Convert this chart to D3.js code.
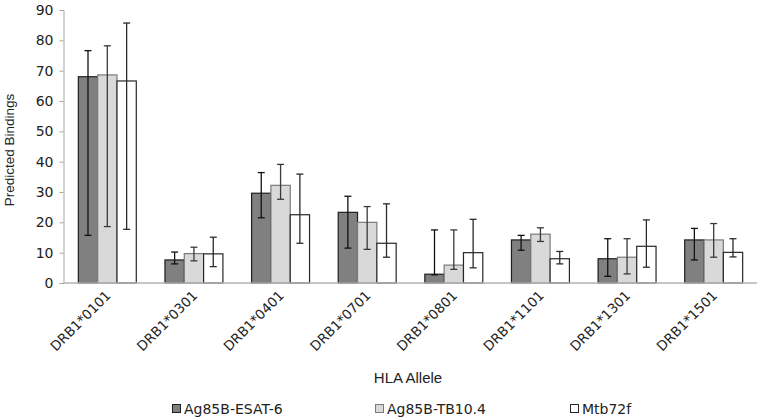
<!DOCTYPE html>
<html><head><meta charset="utf-8">
<script src="https://cdn.jsdelivr.net/npm/d3@7/dist/d3.min.js"></script>
<style>body{margin:0;background:#fff}svg{display:block}</style>
</head><body>
<script>
const categories = ["DRB1*0101","DRB1*0301","DRB1*0401","DRB1*0701","DRB1*0801","DRB1*1101","DRB1*1301","DRB1*1501"];
const seriesNames = ["Ag85B-ESAT-6","Ag85B-TB10.4","Mtb72f"];
const esatValues = [68, 7.6, 29.6, 23.3, 2.9, 14.2, 8, 14.2];
const esatLow    = [15.7, 6.3, 21.5, 11.5, 2.7, 10.8, 2.2, 7.6];
const esatHigh   = [76.6, 10.2, 36.4, 28.6, 17.5, 15.7, 14.6, 18];
const tbValues   = [68.6, 9.7, 32.2, 20, 5.9, 16.1, 8.5, 14.2];
const tbLow      = [18.6, 7.3, 27.6, 11.1, 4.5, 13.7, 3, 8.5];
const tbHigh     = [78.2, 11.8, 39.1, 25.2, 17.5, 18.2, 14.6, 19.6];
const mtbValues  = [66.6, 9.6, 22.5, 13.1, 10, 8, 12.1, 10.1];
const mtbLow     = [17.7, 5.4, 13.1, 8.5, 5, 6.3, 5.2, 8.6];
const mtbHigh    = [85.7, 15.1, 35.9, 26.1, 21, 10.4, 20.8, 14.6];
const yTicks = [0,10,20,30,40,50,60,70,80,90];

const series = [
  {name: seriesNames[0], values: esatValues, low: esatLow, high: esatHigh, fill: "#808080", stroke: "#1e1e1e", err: "#111"},
  {name: seriesNames[1], values: tbValues, low: tbLow, high: tbHigh, fill: "#d9d9d9", stroke: "#7a7a7a", err: "#3a3a3a"},
  {name: seriesNames[2], values: mtbValues, low: mtbLow, high: mtbHigh, fill: "#ffffff", stroke: "#262626", err: "#2a2a2a"}
];

const W = 762, H = 417;
const svg = d3.select("body").append("svg").attr("width", W).attr("height", H);
const font = "DejaVu Sans, Verdana, sans-serif";

const x = d3.scaleBand().domain(categories).range([64, 757]).paddingInner(0.331).paddingOuter(0.1655);
const xs = d3.scaleBand().domain(seriesNames).range([0, x.bandwidth()]);
const y = d3.scaleLinear().domain([0, 90]).range([283, 10]);

// y axis
const yAxis = svg.append("g").attr("transform", "translate(63.5,0)")
  .call(d3.axisLeft(y).tickValues(yTicks).tickSize(4).tickPadding(6).tickFormat(d3.format("d")));
yAxis.select(".domain").attr("stroke", "#a6a6a6");
yAxis.selectAll(".tick line").attr("stroke", "#a6a6a6");
yAxis.selectAll("text").attr("font-family", font).attr("font-size", 14).attr("fill", "#222");

// bars
const groups = svg.append("g").selectAll("g").data(series).join("g");
groups.each(function(s) {
  const g = d3.select(this);
  g.selectAll("rect").data(categories).join("rect")
    .attr("x", (c) => x(c) + xs(s.name))
    .attr("y", (c, i) => y(s.values[i]))
    .attr("width", xs.bandwidth())
    .attr("height", (c, i) => y(0) - y(s.values[i]))
    .attr("fill", s.fill).attr("stroke", s.stroke).attr("stroke-width", 1.2);
});

// x axis line
const xAxis = svg.append("g").attr("transform", "translate(0,283)")
  .call(d3.axisBottom(x).tickSize(0).tickPadding(0).tickFormat(""));
xAxis.select(".domain").attr("stroke", "#b3b3b3").attr("stroke-width", 1.6).attr("d", "M63,0H757");

// error bars
groups.each(function(s) {
  const g = d3.select(this).append("g");
  categories.forEach((c, i) => {
    const cx = x(c) + xs(s.name) + xs.bandwidth() / 2;
    const y1 = y(s.low[i]), y2 = y(s.high[i]);
    g.append("line").attr("x1", cx).attr("x2", cx).attr("y1", y1).attr("y2", y2).attr("stroke", s.err).attr("stroke-width", 1.3);
    [y1, y2].forEach(yy => g.append("line").attr("x1", cx - 3.5).attr("x2", cx + 3.5).attr("y1", yy).attr("y2", yy).attr("stroke", s.err).attr("stroke-width", 1.3));
  });
});

// category labels
svg.append("g").selectAll("text").data(categories).join("text")
  .attr("transform", c => `translate(${x(c) + x.bandwidth() / 2 + 1},293) rotate(-45)`)
  .attr("text-anchor", "end").attr("dy", "0.35em")
  .attr("font-family", font).attr("font-size", 13.5).attr("fill", "#222")
  .text(c => c);

// axis titles
svg.append("text").attr("transform", "translate(14,150) rotate(-90)")
  .attr("text-anchor", "middle").attr("font-family", "Liberation Sans, Arial, sans-serif").attr("font-size", 13.5).attr("fill", "#222")
  .text("Predicted Bindings");
svg.append("text").attr("x", 408).attr("y", 383)
  .attr("text-anchor", "middle").attr("font-family", "Liberation Sans, Arial, sans-serif").attr("font-size", 15).attr("fill", "#222")
  .text("HLA Allele");

// legend
const legendX = [172, 375, 570];
const lg = svg.append("g").selectAll("g").data(series).join("g")
  .attr("transform", (s, i) => `translate(${legendX[i]},404)`);
lg.append("rect").attr("x", 0.5).attr("y", 0.5).attr("width", 8).attr("height", 8)
  .attr("fill", s => s.fill).attr("stroke", s => s.stroke).attr("stroke-width", 1);
lg.append("text").attr("x", 12).attr("y", 9.5)
  .attr("font-family", font).attr("font-size", 14).attr("fill", "#222")
  .text(s => s.name);
</script>
</body></html>
